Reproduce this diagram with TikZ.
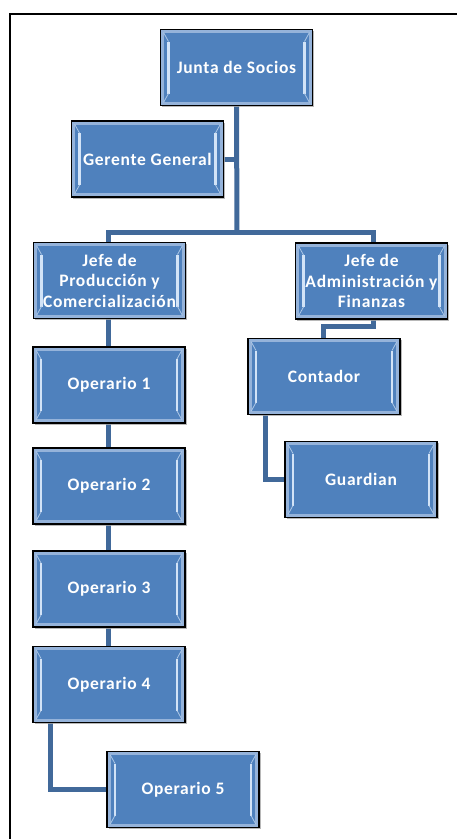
\documentclass[tikz,border=0pt]{standalone}
\usepackage{fontspec}
\newfontfamily\boxfont[LetterSpace=4]{Carlito}
\usetikzlibrary{backgrounds,shadows}
\definecolor{boxblue}{HTML}{4F81BD}
\definecolor{rimblue}{HTML}{95B3DA}
\definecolor{hiblue}{HTML}{D2E3F7}
\definecolor{linkblue}{HTML}{41699A}
\tikzset{
  orgbox/.style={rectangle, minimum width=152pt, minimum height=76pt, inner sep=0pt, outer sep=0pt,
    fill=boxblue, draw=black, line width=1.4pt, text=white, align=center,
    font=\boxfont\bfseries\fontsize{17.5}{20.5}\selectfont,
    drop shadow={shadow xshift=1.5pt, shadow yshift=-1.5pt, fill=gray!70, opacity=0.8},
    path picture={
      \draw[rimblue, line width=3pt]
        ([shift={(2.2pt,-2.2pt)}]path picture bounding box.north west) rectangle
        ([shift={(-2.2pt,2.2pt)}]path picture bounding box.south east);
      \draw[hiblue, line width=2.2pt]
        ([shift={(8pt,-12pt)}]path picture bounding box.north west) --
        ([shift={(8pt,12pt)}]path picture bounding box.south west);
      \draw[hiblue, line width=2.2pt]
        ([shift={(-8pt,-12pt)}]path picture bounding box.north east) --
        ([shift={(-8pt,12pt)}]path picture bounding box.south east);
      \draw[hiblue!70!boxblue, line width=0.8pt]
        ([shift={(3pt,-3pt)}]path picture bounding box.north west) -- ([shift={(8pt,-12pt)}]path picture bounding box.north west)
        ([shift={(3pt,3pt)}]path picture bounding box.south west) -- ([shift={(8pt,12pt)}]path picture bounding box.south west)
        ([shift={(-3pt,-3pt)}]path picture bounding box.north east) -- ([shift={(-8pt,-12pt)}]path picture bounding box.north east)
        ([shift={(-3pt,3pt)}]path picture bounding box.south east) -- ([shift={(-8pt,12pt)}]path picture bounding box.south east);
    }},
  link/.style={draw=linkblue, line width=5pt, line join=miter}
}
\begin{document}
\begin{tikzpicture}[x=1pt, y=-1pt]
\useasboundingbox (0,0) rectangle (456,839);
\draw[line width=2pt] (10,845) -- (10,14) -- (465,14);

\node[orgbox] (junta) at (236.5,67.5) {Junta de Socios};
\node[orgbox] (gerente) at (147.5,159) {Gerente General};
\node[orgbox] (jprod) at (109.5,280.5) {Jefe de\\Producción y\\Comercialización};
\node[orgbox] (jadm) at (371.5,281) {Jefe de\\Administración y\\Finanzas};
\node[orgbox] (op1) at (109,385) {Operario 1};
\node[orgbox] (op2) at (109,486) {Operario 2};
\node[orgbox] (op3) at (109,589) {Operario 3};
\node[orgbox] (op4) at (109,684.5) {Operario 4};
\node[orgbox] (op5) at (183,789.5) {Operario 5};
\node[orgbox] (cont) at (324,376.5) {Contador};
\node[orgbox] (guard) at (361,479.5) {Guardian};

\coordinate (hub) at (237,232);
\coordinate (colL) at (108,0);
\coordinate (colR) at (373,0);
\coordinate (colC) at (323,0);
\coordinate (colK) at (265,0);
\coordinate (colO) at (50,0);
\coordinate (elbowA) at (323,326);
\begin{pgfonlayer}{background}
\draw[link] (junta.south) -- (hub);
\draw[link] (gerente.east) -- (gerente.east -| junta.south);
\draw[link] (colL |- jprod.north) |- (hub) -| (colR |- jadm.north);
\draw[link] (colR |- jadm.south) |- (elbowA) -- (colC |- cont.north);
\draw[link] (colL |- jprod.south) -- (colL |- op1.north);
\draw[link] (colL |- op1.south) -- (colL |- op2.north);
\draw[link] (colL |- op2.south) -- (colL |- op3.north);
\draw[link] (colL |- op3.south) -- (colL |- op4.north);
\draw[link] (colK |- cont.south) |- (guard.west);
\draw[link] (colO |- op4.south) |- (op5.west);
\end{pgfonlayer}
\end{tikzpicture}
\end{document}
